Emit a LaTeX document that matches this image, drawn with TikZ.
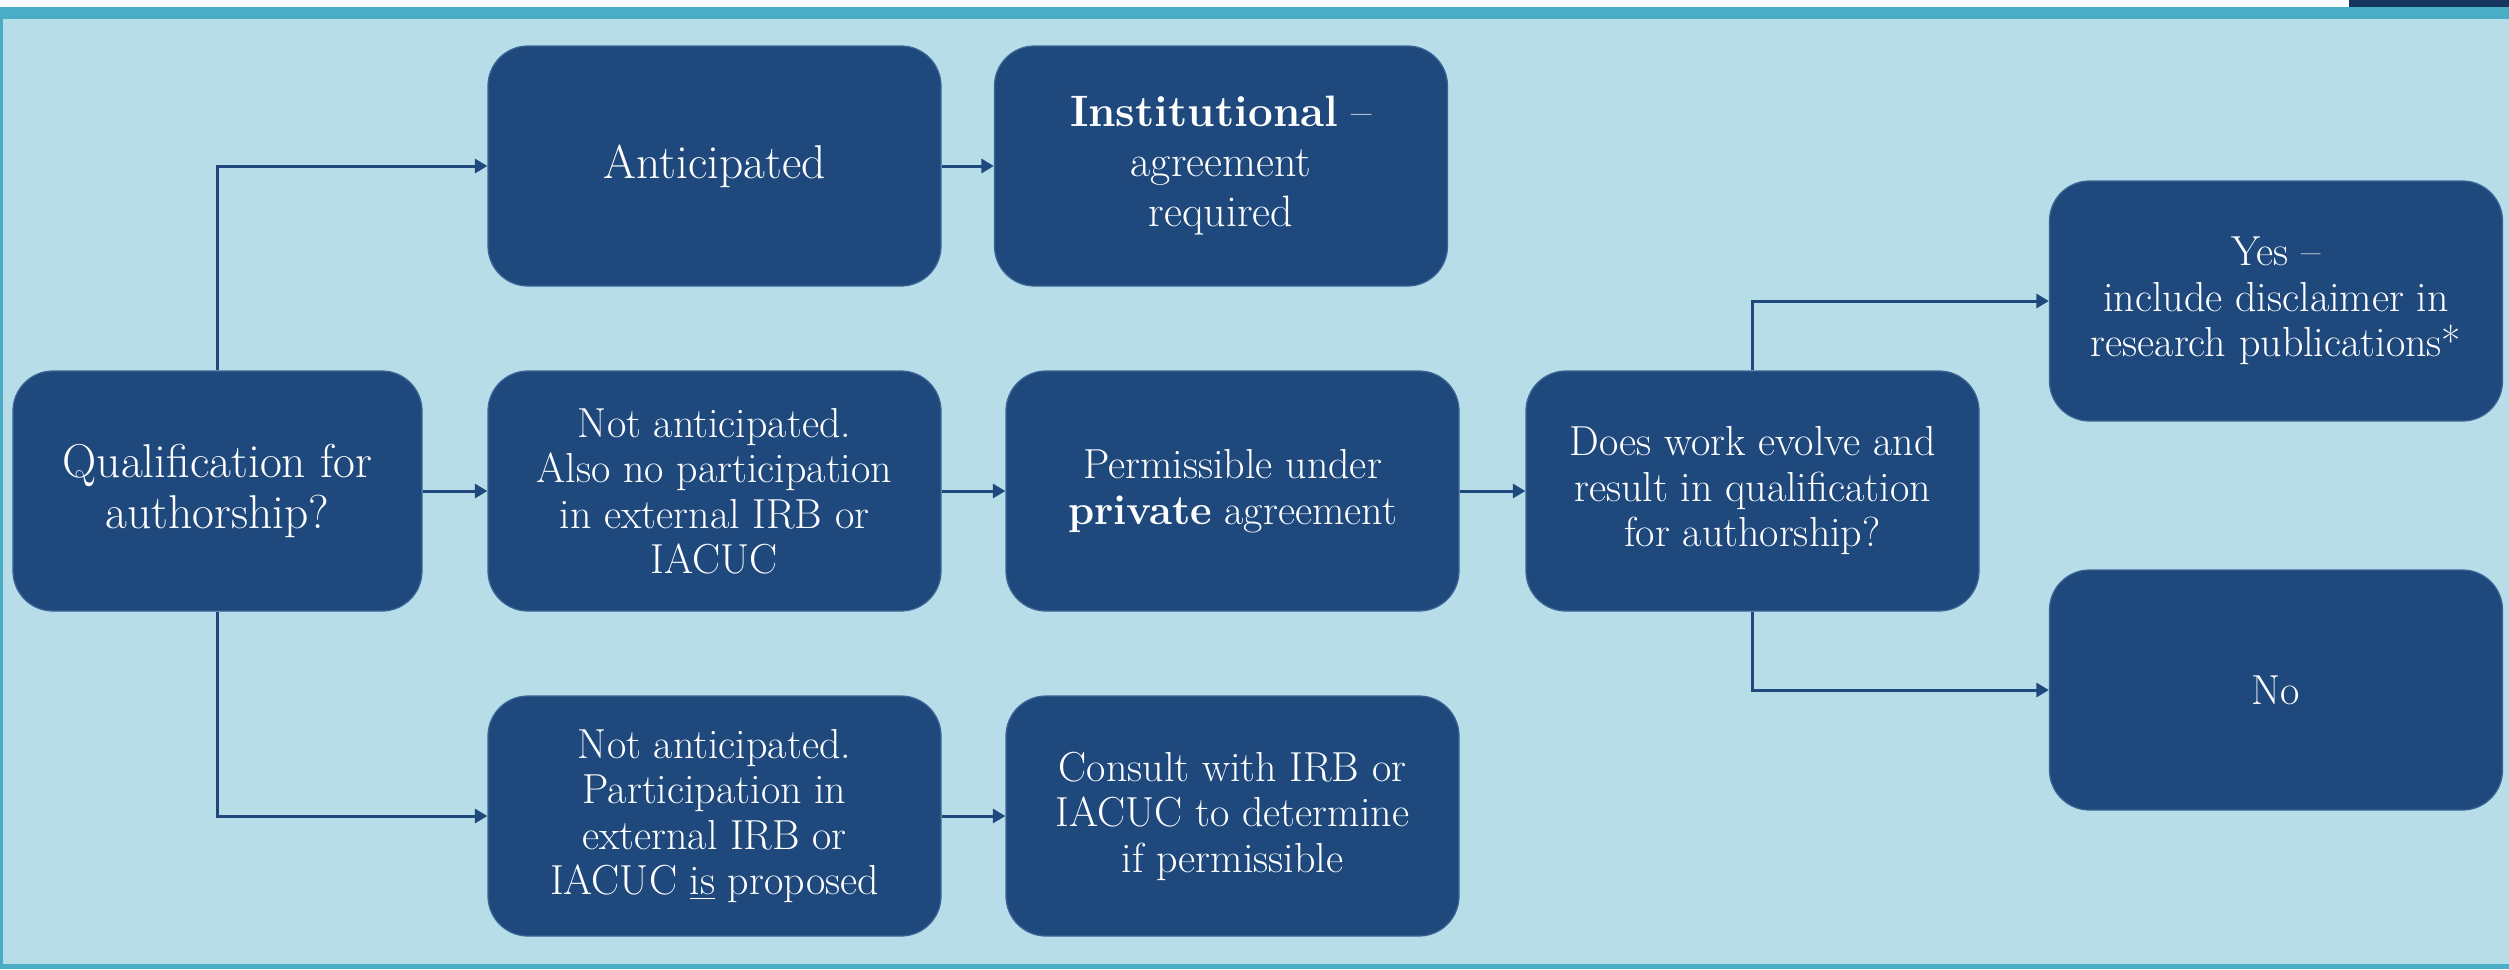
\documentclass[tikz,border=0pt]{standalone}
\usetikzlibrary{arrows.meta}
\definecolor{boxblue}{HTML}{1F497D}
\definecolor{boxedge}{HTML}{3A6596}
\definecolor{bgblue}{HTML}{B7DDE8}
\definecolor{teal}{HTML}{4BACC6}
\definecolor{navy}{HTML}{17365D}
\tikzset{
  box/.style={fill=boxblue, draw=boxedge, line width=0.5pt, rounded corners=16pt,
    minimum width=181.2pt, minimum height=96pt, inner sep=0pt, align=center,
    text=white, font=\fontsize{16.8}{18.2}\selectfont},
  bigbox/.style={box, font=\fontsize{19}{20.2}\selectfont},
  conn/.style={draw=boxblue, line width=1.2pt, -{Triangle[length=5pt,width=5.6pt]}}
}
\begin{document}
\begin{tikzpicture}[x=0.4pt,y=-0.4pt]
\useasboundingbox (0,0) rectangle (2509,969);
\fill[white] (0,0) rectangle (2509,7);
\fill[navy] (2349,0) rectangle (2509,7);
\fill[teal] (0,7) rectangle (2509,19);
\fill[bgblue] (0,19) rectangle (2509,964);
\fill[teal] (0,964) rectangle (2509,969);
\fill[teal] (0,19) rectangle (3,964);

\node[bigbox, minimum width=163.6pt] (q) at (217.5,491) {Qualification for\\authorship?};
\node[bigbox] (ant) at (714.5,166) {Anticipated};
\node[bigbox, font=\fontsize{17.6}{20}\selectfont] (inst) at (1221,166) {\textbf{Institutional} --\\agreement\\required};
\node[box] (mid) at (714.5,491) {Not anticipated.\\Also no participation\\in external IRB or\\IACUC};
\node[box] (perm) at (1232.5,491) {Permissible under\\\textbf{private} agreement};
\node[box] (does) at (1752.5,491) {Does work evolve and\\result in qualification\\for authorship?};
\node[box] (yes) at (2276,301) {Yes --\\include disclaimer in\\research publications*};
\node[box] (no) at (2276,690) {No};
\node[box] (bot) at (714.5,816) {Not anticipated.\\Participation in\\external IRB or\\IACUC \underline{is} proposed};
\node[box] (cons) at (1232.5,816) {Consult with IRB or\\IACUC to determine\\if permissible};

\draw[conn] (q.north) |- (ant.west);
\draw[conn] (q.east) -- (mid.west);
\draw[conn] (q.south) |- (bot.west);
\draw[conn] (ant.east) -- (inst.west);
\draw[conn] (mid.east) -- (perm.west);
\draw[conn] (bot.east) -- (cons.west);
\draw[conn] (perm.east) -- (does.west);
\draw[conn] (does.north) |- (yes.west);
\draw[conn] (does.south) |- (no.west);
\end{tikzpicture}
\end{document}
